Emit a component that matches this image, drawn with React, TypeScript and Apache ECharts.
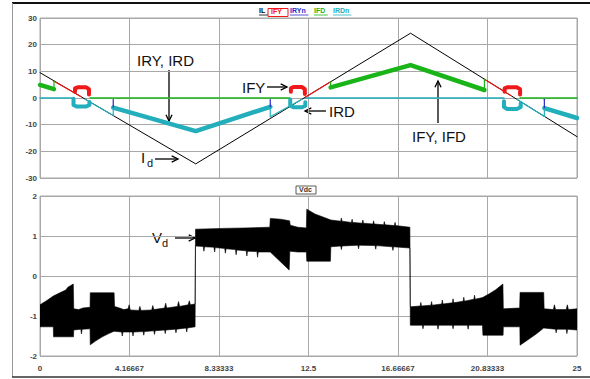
import React, { useEffect, useRef } from "react";
import * as echarts from "echarts";

// ---------- data ----------
const xTickLabels = ["0", "4.16667", "8.33333", "12.5", "16.66667", "20.83333", "25"];

// Id / IL (black triangle)
const ilLine = [[0, 9.5], [7.25, -24.7], [17.25, 24.3], [25, -14.5]];

// IFY (red) thin segments on the Id line and commutation blobs
const ifyThin1 = [[0.65, 6.3], [1.9, 0.6]];
const ifyThin2 = [[12.35, 0.3], [13.53, 6.1]];
const ifyThin3 = [[20.69, 7.0], [21.9, 1.0]];
const ifyBlob1 = [[1.63, 2.3], [1.63, 3.6], [1.75, 4.0], [2.15, 4.0], [2.28, 3.3], [2.28, 1.3]];
const ifyBlob2 = [[11.68, 2.3], [11.68, 3.6], [11.8, 4.1], [12.2, 4.1], [12.33, 3.3], [12.33, 1.5]];
const ifyBlob3 = [[21.63, 2.3], [21.63, 3.6], [21.75, 4.0], [22.2, 4.0], [22.35, 3.3], [22.35, 1.3]];

// IFD (green)
const ifdThick1 = [[0, 4.9], [0.65, 3.3]];
const ifdThick2 = [[13.53, 4.0], [17.25, 12.3], [20.69, 3.0]];
const ifdTick1 = [[0.65, 3.3], [0.65, 6.3]];
const ifdTick2 = [[13.53, 4.0], [13.53, 6.1]];
const ifdTick3 = [[20.69, 3.0], [20.69, 7.0]];
const ifdZero1 = [[2.33, 0], [11.62, 0]];
const ifdZero2 = [[22.35, 0], [25, 0]];

// IRD (cyan)
const irdZero1 = [[0, 0], [1.56, 0]];
const irdZero2 = [[12.35, 0], [21.6, 0]];
const irdThick1 = [[3.41, -3.6], [7.25, -12.4], [10.72, -3.3]];
const irdThick2 = [[23.48, -3.8], [25, -7.5]];
const irdThin1 = [[2.1, -0.5], [3.41, -6.6]];
const irdThin2 = [[10.72, -7.0], [12.2, -0.5]];
const irdThin3 = [[22.2, -0.5], [23.48, -6.9]];
const irdTick1 = [[3.41, -3.6], [3.41, -6.6]];
const irdTick2 = [[10.72, -3.3], [10.72, -7.0]];
const irdTick3 = [[23.48, -3.8], [23.48, -6.9]];
const irdBlob1 = [[1.56, -0.3], [1.56, -2.6], [1.7, -3.2], [2.15, -3.2], [2.3, -2.6], [2.3, -1.5]];
const irdBlob2 = [[11.65, -0.6], [11.65, -2.9], [11.8, -3.5], [12.2, -3.5], [12.35, -2.9], [12.35, -1.6]];
const irdBlob3 = [[21.6, -1.2], [21.6, -3.4], [21.75, -4.1], [22.2, -4.1], [22.38, -3.4], [22.38, -2.0]];

// IRYn (blue) short ticks
const iryTick1 = [[3.41, -0.6], [3.41, -3.4]];
const iryTick2 = [[10.72, -0.6], [10.72, -3.2]];
const iryTick3 = [[23.48, -0.5], [23.48, -3.6]];

// Vd switching band: upper edge and lower edge
const vdUpper = [
  [0, -0.72], [0.3, -0.62], [0.62, -0.5], [1.0, -0.4], [1.2, -0.35], [1.3, -0.28], [1.55, -0.2],
  [1.57, -0.82], [1.8, -0.84], [2.0, -0.8], [2.33, -0.78],
  [2.34, -0.42], [3.45, -0.42],
  [3.47, -0.76], [3.7, -0.8], [3.9, -0.84], [4.1, -0.82], [4.15, -0.72], [4.2, -0.85], [4.6, -0.86], [4.65, -0.76], [4.7, -0.86],
  [5.2, -0.85], [5.25, -0.74], [5.3, -0.84], [5.8, -0.8], [5.85, -0.68], [5.9, -0.8], [6.4, -0.76], [6.45, -0.64], [6.5, -0.76],
  [6.9, -0.72], [6.95, -0.62], [7.0, -0.72], [7.22, -0.7],
  [7.24, 1.17], [8.5, 1.19], [9.5, 1.2], [10.7, 1.22],
  [10.72, 1.44], [11.2, 1.42], [11.62, 1.38],
  [11.65, 1.27], [12.0, 1.22], [12.4, 1.2],
  [12.42, 1.67], [12.8, 1.55], [13.2, 1.47], [13.54, 1.4],
  [14.0, 1.37], [14.03, 1.45], [14.06, 1.37], [14.5, 1.34], [14.53, 1.42], [14.56, 1.34], [15.0, 1.32], [15.03, 1.4], [15.06, 1.32],
  [15.5, 1.3], [15.53, 1.38], [15.56, 1.3], [16.0, 1.28], [16.03, 1.36], [16.06, 1.28], [16.5, 1.26], [16.53, 1.34], [16.56, 1.26], [17.22, 1.22],
  [17.24, -0.77], [17.7, -0.75], [17.73, -0.66], [17.76, -0.75], [18.2, -0.73], [18.23, -0.64], [18.26, -0.73], [18.7, -0.7], [18.73, -0.6], [18.76, -0.7],
  [19.2, -0.67], [19.23, -0.57], [19.26, -0.67], [19.7, -0.63], [19.73, -0.53], [19.76, -0.63], [20.2, -0.58], [20.23, -0.48], [20.26, -0.58], [20.6, -0.54],
  [20.9, -0.45], [21.2, -0.35], [21.55, -0.2],
  [21.57, -0.82], [22.33, -0.8],
  [22.35, -0.41], [23.45, -0.41],
  [23.47, -0.82], [23.9, -0.84], [23.95, -0.72], [24.0, -0.84], [24.5, -0.84], [24.55, -0.72], [24.6, -0.84], [25, -0.82],
];
const vdLower = [
  [0, -1.27], [0.62, -1.27], [0.63, -1.52], [1.56, -1.52],
  [1.57, -1.35], [1.9, -1.33], [1.93, -1.45], [1.96, -1.33], [2.33, -1.32],
  [2.34, -1.72], [2.6, -1.62], [2.9, -1.52], [3.2, -1.44], [3.45, -1.38],
  [3.8, -1.4], [3.83, -1.5], [3.86, -1.4], [4.3, -1.4], [4.33, -1.5], [4.36, -1.4], [4.8, -1.39], [4.83, -1.48], [4.86, -1.39],
  [5.3, -1.37], [5.33, -1.46], [5.36, -1.37], [5.8, -1.35], [5.83, -1.44], [5.86, -1.35], [6.3, -1.33], [6.33, -1.42], [6.36, -1.33],
  [6.8, -1.3], [6.83, -1.4], [6.86, -1.3], [7.22, -1.27],
  [7.24, 0.75], [7.6, 0.74], [7.63, 0.62], [7.66, 0.73], [8.1, 0.72], [8.13, 0.6], [8.16, 0.71], [8.6, 0.69], [8.63, 0.57], [8.66, 0.68],
  [9.1, 0.66], [9.13, 0.53], [9.16, 0.65], [9.6, 0.63], [9.63, 0.5], [9.66, 0.62], [10.1, 0.61], [10.13, 0.47], [10.16, 0.6], [10.72, 0.6],
  [11.6, 0.15],
  [11.63, 0.62], [12.0, 0.6], [12.4, 0.6],
  [12.42, 0.37], [13.52, 0.37],
  [13.54, 0.73], [14.0, 0.75], [14.03, 0.66], [14.06, 0.75], [14.8, 0.77], [14.83, 0.68], [14.86, 0.77], [15.6, 0.76], [15.63, 0.67], [15.66, 0.76],
  [16.4, 0.73], [16.43, 0.64], [16.46, 0.73], [17.22, 0.7],
  [17.24, -1.23], [17.8, -1.23], [17.83, -1.32], [17.86, -1.23], [18.5, -1.23], [18.53, -1.33], [18.56, -1.23],
  [19.2, -1.23], [19.23, -1.32], [19.26, -1.23], [19.9, -1.23], [19.93, -1.33], [19.96, -1.23], [20.6, -1.23],
  [20.62, -1.48], [21.56, -1.48],
  [21.57, -1.27], [22.34, -1.27],
  [22.35, -1.73], [22.7, -1.6], [23.1, -1.45], [23.45, -1.3],
  [24.0, -1.33], [24.03, -1.42], [24.06, -1.33], [24.5, -1.33], [24.53, -1.44], [24.56, -1.33], [25, -1.35],
];

// ---------- colours ----------
const RED = "#f01818";
const GREEN = "#18b418";
const CYAN = "#22aebb";
const BLUE = "#2828c8";
const GRIDC = "#a8a8a8";
const FONT = "Liberation Sans, Arial, sans-serif";

function seg(data: number[][], color: string, width: number, z = 2) {
  return {
    type: "line",
    xAxisIndex: 0,
    yAxisIndex: 0,
    data,
    symbol: "none",
    silent: true,
    z,
    lineStyle: { color, width, cap: "round", join: "round" },
  };
}

function arrow(x1: number, y1: number, x2: number, y2: number) {
  const ang = Math.atan2(y2 - y1, x2 - x1);
  const L = 7;
  const a1 = ang + Math.PI - 0.45;
  const a2 = ang + Math.PI + 0.45;
  return [
    { type: "line", shape: { x1, y1, x2, y2 }, style: { stroke: "#000", lineWidth: 1.3 } },
    {
      type: "polyline",
      shape: { points: [[x2 + L * Math.cos(a1), y2 + L * Math.sin(a1)], [x2, y2], [x2 + L * Math.cos(a2), y2 + L * Math.sin(a2)]] },
      style: { stroke: "#000", lineWidth: 1.3, fill: null },
    },
  ];
}

function label(text: string, x: number, y: number, size = 15, color = "#111") {
  return { type: "text", x, y, style: { text, fill: color, font: `${size}px ${FONT}` } };
}

function legendItem(text: string, x: number, color: string) {
  const w = text.length * 4.6;
  return [
    { type: "text", x, y: 7, style: { text, fill: color, font: `bold 7px ${FONT}` } },
    { type: "line", shape: { x1: x, y1: 15, x2: x + w, y2: 15 }, style: { stroke: color, lineWidth: 0.8 } },
  ];
}

export default function App() {
  const ref = useRef<HTMLDivElement>(null);
  useEffect(() => {
    if (!ref.current) return;
    const chart = echarts.init(ref.current, null, { renderer: "svg" });
    const axisLabelY = { fontSize: 8, fontWeight: "bold", color: "#444", fontFamily: FONT, margin: 3 };
    const splitLine = { show: true, lineStyle: { color: GRIDC, width: 1 } };
    const baseX = {
      type: "value",
      min: 0,
      max: 25,
      interval: 25 / 6,
      axisLine: { show: false },
      axisTick: { show: false },
      splitLine,
    };
    const series: any[] = [
      seg(ifdZero1, GREEN, 1.5),
      seg(ifdZero2, GREEN, 1.5),
      seg(irdZero1, CYAN, 1.5),
      seg(irdZero2, CYAN, 1.5),
      seg(ilLine, "#000", 1, 3),
      seg(irdThin1, CYAN, 1.2, 4),
      seg(irdThin2, CYAN, 1.2, 4),
      seg(irdThin3, CYAN, 1.2, 4),
      seg(irdTick1, CYAN, 1.2, 4),
      seg(irdTick2, CYAN, 1.2, 4),
      seg(irdTick3, CYAN, 1.2, 4),
      seg(irdThick1, CYAN, 4.5, 4),
      seg(irdThick2, CYAN, 4.5, 4),
      seg(iryTick1, BLUE, 1.2, 5),
      seg(iryTick2, BLUE, 1.2, 5),
      seg(iryTick3, BLUE, 1.2, 5),
      seg(ifyThin1, RED, 1.2, 4),
      seg(ifyThin2, RED, 1.2, 4),
      seg(ifyThin3, RED, 1.2, 4),
      seg(ifdTick1, GREEN, 1.2, 4),
      seg(ifdTick2, GREEN, 1.2, 4),
      seg(ifdTick3, GREEN, 1.2, 4),
      seg(ifdThick1, GREEN, 4.5, 4),
      seg(ifdThick2, GREEN, 4.5, 4),
      seg(ifyBlob1, RED, 4, 5),
      seg(ifyBlob2, RED, 4, 5),
      seg(ifyBlob3, RED, 4, 5),
      seg(irdBlob1, CYAN, 4, 5),
      seg(irdBlob2, CYAN, 4, 5),
      seg(irdBlob3, CYAN, 4, 5),
      {
        type: "custom",
        xAxisIndex: 1,
        yAxisIndex: 1,
        silent: true,
        clip: true,
        data: vdUpper,
        encode: { x: 0, y: 1 },
        renderItem: (params: any, api: any) => {
          if (params.dataIndex !== 0) return null;
          const pts: number[][] = [];
          for (let i = 0; i < vdUpper.length; i++) pts.push(api.coord(vdUpper[i]));
          for (let i = vdLower.length - 1; i >= 0; i--) pts.push(api.coord(vdLower[i]));
          return { type: "polygon", shape: { points: pts }, style: { fill: "#000", stroke: "#000", lineWidth: 0.6 } };
        },
      },
    ];

    const graphic: any[] = [
      // outer frame
      { type: "line", shape: { x1: 12, y1: 3, x2: 590, y2: 3 }, style: { stroke: "#111", lineWidth: 2 } },
      { type: "line", shape: { x1: 12.5, y1: 3, x2: 12.5, y2: 377 }, style: { stroke: "#999", lineWidth: 1 } },
      { type: "line", shape: { x1: 12, y1: 377, x2: 590, y2: 377 }, style: { stroke: "#333", lineWidth: 1.5 } },
      // legend
      ...legendItem("IL", 259, "#000"),
      { type: "rect", shape: { x: 268, y: 8.5, width: 20, height: 8 }, style: { stroke: RED, lineWidth: 1, fill: "#fff" } },
      { type: "text", x: 271, y: 8, style: { text: "IFY", fill: RED, font: `bold 7px ${FONT}` } },
      ...legendItem("IRYn", 290, BLUE),
      ...legendItem("IFD", 314, GREEN),
      ...legendItem("IRDn", 333, CYAN),
      // Vdc label
      { type: "rect", shape: { x: 296, y: 186, width: 20, height: 8 }, style: { stroke: "#333", lineWidth: 0.8, fill: "#fff" } },
      { type: "text", x: 299, y: 186, style: { text: "Vdc", fill: "#333", font: `bold 7px ${FONT}` } },
      // annotations
      label("IRY, IRD", 137, 53),
      ...arrow(169, 70, 169, 121),
      label("I", 141, 150),
      label("d", 147, 157, 11),
      ...arrow(155, 159, 178, 159),
      label("IFY", 242, 80),
      ...arrow(267, 87, 287, 87),
      label("IRD", 329, 104),
      ...arrow(326, 111, 305, 111),
      label("IFY, IFD", 412, 129),
      ...arrow(438, 123, 438, 81),
      label("V", 152, 230),
      label("d", 162, 237, 11),
      ...arrow(175, 238, 195, 238),
    ];

    chart.setOption({
      animation: false,
      backgroundColor: "#fff",
      grid: [
        { left: 40, right: 13, top: 18, height: 160, show: true, borderColor: GRIDC, borderWidth: 1 },
        { left: 40, right: 13, top: 196, height: 160, show: true, borderColor: GRIDC, borderWidth: 1 },
      ],
      xAxis: [
        { ...baseX, gridIndex: 0, axisLabel: { show: false } },
        {
          ...baseX,
          gridIndex: 1,
          axisLabel: {
            fontSize: 8,
            fontWeight: "bold",
            color: "#444",
            fontFamily: FONT,
            margin: 8,
            formatter: (v: number) => xTickLabels[Math.round(v / (25 / 6))] ?? "",
          },
        },
      ],
      yAxis: [
        { type: "value", gridIndex: 0, min: -30, max: 30, interval: 10, axisLine: { show: false }, axisTick: { show: false }, splitLine, axisLabel: axisLabelY },
        { type: "value", gridIndex: 1, min: -2, max: 2, interval: 1, axisLine: { show: false }, axisTick: { show: false }, splitLine, axisLabel: axisLabelY },
      ],
      series,
      graphic,
    });
    return () => chart.dispose();
  }, []);
  return <div ref={ref} style={{ position: "fixed", left: 0, top: 0, width: 590, height: 379 }} />;
}
